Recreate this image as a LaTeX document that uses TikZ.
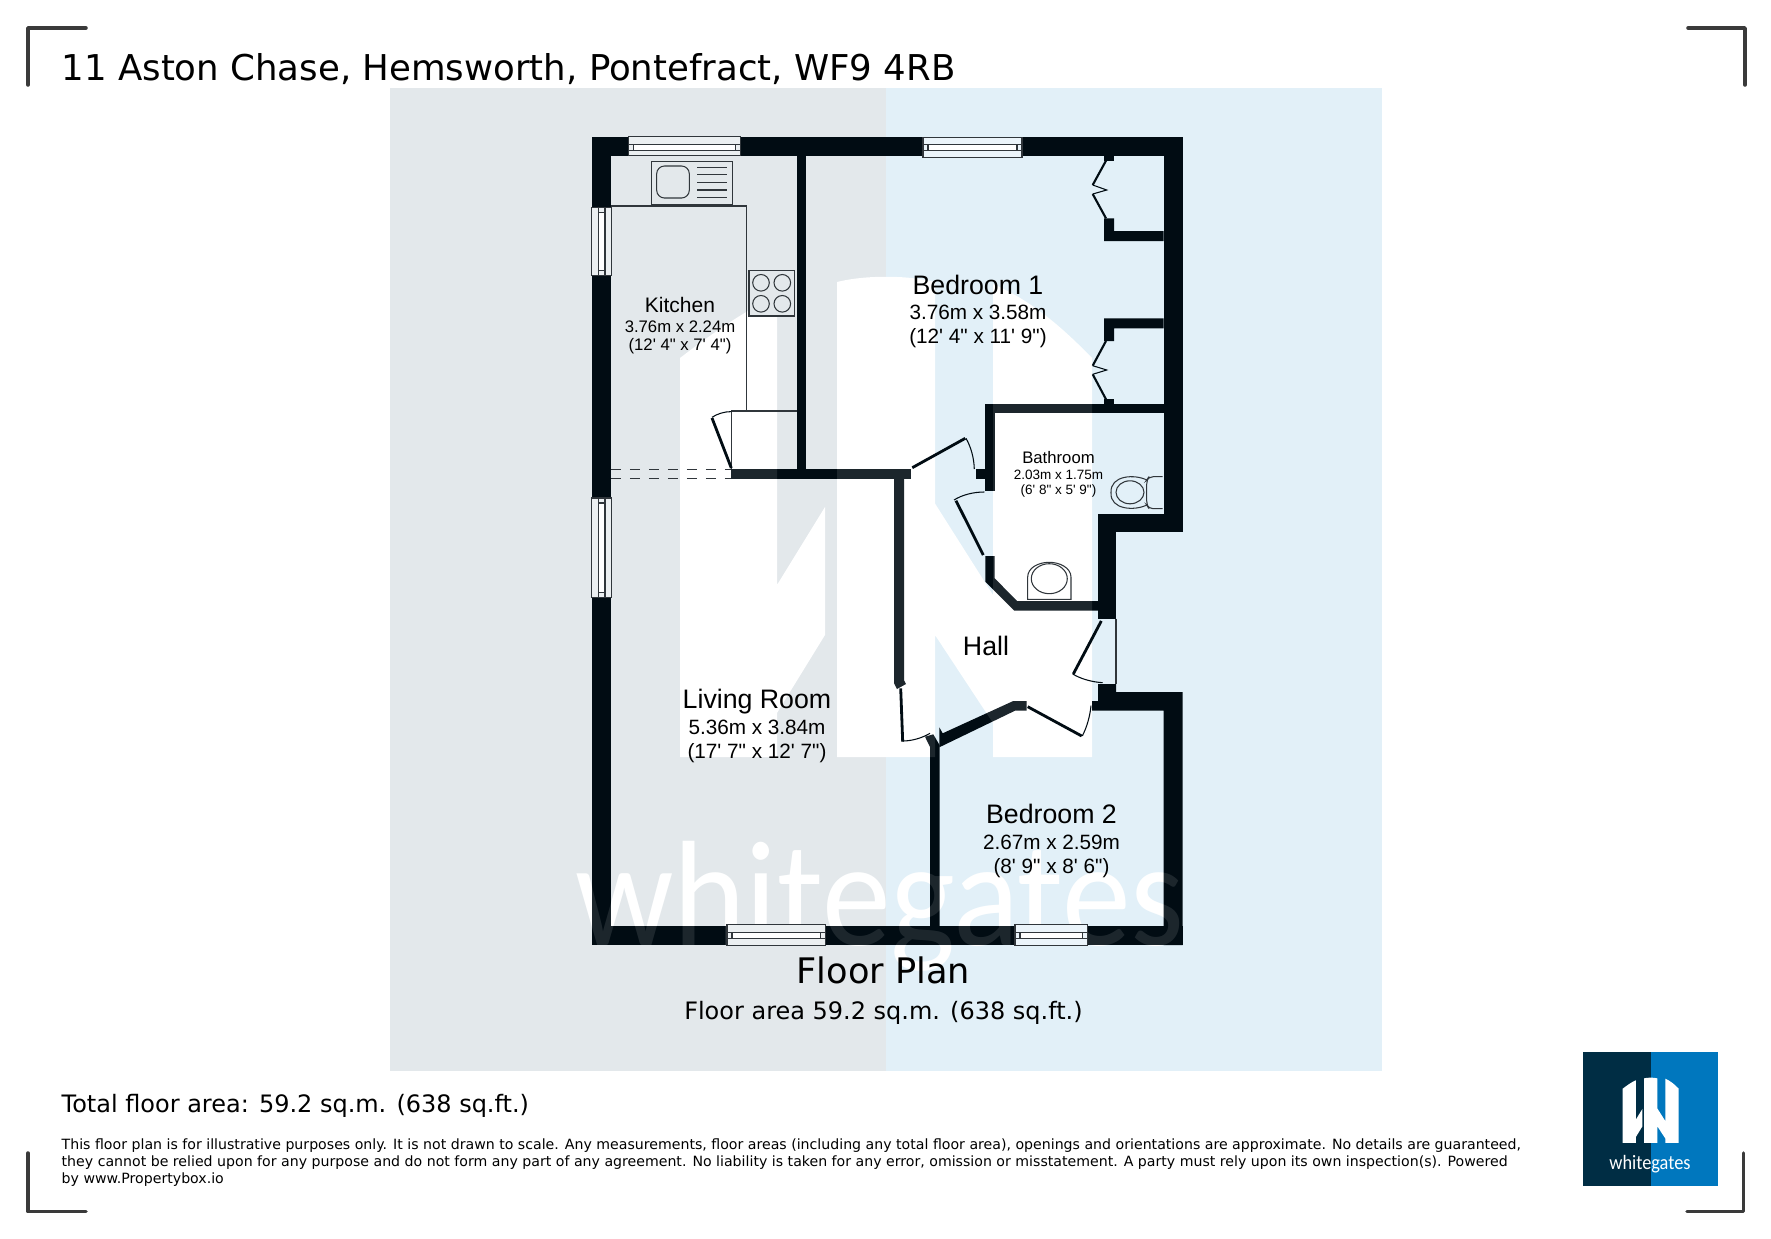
\documentclass[tikz,border=0pt]{standalone}
\usepackage{fontspec}
\usepackage{xcolor}
\usepackage{tikz}
\setmainfont{Liberation Sans}
\newfontfamily\roomfont{Liberation Sans}
\newfontfamily\verdanafont{DejaVu Sans}
\newfontfamily\markfont{Carlito}
\definecolor{panelgray}{HTML}{E3E8EB}
\definecolor{panelblue}{HTML}{E2F0F8}
\definecolor{wallink}{HTML}{010C13}
\definecolor{logonavy}{HTML}{002D44}
\definecolor{logoblue}{HTML}{0077BE}
\definecolor{fixtureline}{HTML}{30363B}
\definecolor{cornerink}{HTML}{3A3A3A}
\newcommand{\markshapes}{
	(680,358) .. controls (710,335) and (745,310) .. (777,296) -- (777,585) -- (825,507) -- (825,635) -- (777,713) -- (777,757) -- (680,757) -- cycle
	(837,282) .. controls (865,275) and (907,275) .. (935,282) -- (935,757) -- (837,757) -- cycle
	(993,284) .. controls (1030,300) and (1060,325) .. (1092,358) -- (1092,757) -- (993,757) -- (993,723) -- (935,635) -- (935,503.5) -- (993,595) -- cycle
}
\begin{document}
\begin{tikzpicture}[x=0.01cm,y=-0.01cm]
	\tikzstyle{wall}=[fill=wallink]
	\tikzstyle{thin line}=[draw=fixtureline, line width=0.3pt]
	\tikzstyle{leaf}=[draw=wallink, line width=0.8pt]
	\tikzstyle{arc line}=[draw=wallink, line width=0.3pt]
	\tikzstyle{corner}=[draw=cornerink, line width=1pt, line cap=round, line join=round]
	\tikzstyle{roomname}=[anchor=base, inner sep=0pt, font=\roomfont\fontsize{7.6pt}{9pt}\selectfont]
	\tikzstyle{roomsize}=[anchor=base, inner sep=0pt, font=\roomfont\fontsize{5.89pt}{7pt}\selectfont]
	\tikzstyle{smallname}=[anchor=base, inner sep=0pt, font=\roomfont\fontsize{5.97pt}{7pt}\selectfont]
	\tikzstyle{smallsize}=[anchor=base, inner sep=0pt, font=\roomfont\fontsize{4.75pt}{6pt}\selectfont]
	\tikzstyle{tinysize}=[anchor=base, inner sep=0pt, font=\roomfont\fontsize{3.84pt}{5pt}\selectfont]
	\tikzstyle{footer}=[anchor=base west, inner sep=0pt, font=\verdanafont\fontsize{4.02pt}{5pt}\selectfont]
	\useasboundingbox (0,0) rectangle (1771,1239);

	% panels and the white mark behind the plan
	\fill[panelgray] (390,88) rectangle (886,1071);
	\fill[panelblue] (886,88) rectangle (1382,1071);
	\fill[white] \markshapes;
	\node[anchor=base, inner sep=0pt, xscale=0.917, transform shape, text=white, font=\markfont\fontsize{42.7pt}{50pt}\selectfont] (markword) at (880,945) {whitegates};

	% walls
	\fill[wall] (592,137) rectangle (1182.5,156);
	\fill[wall] (592,137) rectangle (611,945);
	\fill[wall] (592,926) rectangle (1182.5,945);
	\fill[wall] (1163.5,137) rectangle (1182.5,532);
	\fill[wall] (1098,514) rectangle (1182.5,532);
	\fill[wall] (1098,514) rectangle (1116,618.7);
	\fill[wall] (1098,684) -- (1116,684) -- (1116,692) -- (1182.5,692) -- (1182.5,945) -- (1163.5,945) -- (1163.5,710.7) -- (1092,710.7) -- (1092,701) -- (1098,701) -- cycle;
	\fill[wall] (796.5,156) rectangle (806,470);
	\fill[wall] (731,469.3) rectangle (910.7,479.3);
	\fill[wall] (894,479) -- (904,479) -- (904,680) -- (906,684) -- (897,689) -- (894,683) -- cycle;
	\fill[wall] (985.3,404) rectangle (1163.5,413.3);
	\fill[wall] (985.3,404) rectangle (994.7,490.7);
	\fill[wall] (976,469.3) rectangle (985.3,479.3);
	\fill[wall] (985.3,556) -- (994.7,556) -- (994.7,578.3) -- (1017,601) -- (1098,601) -- (1098,610.7) -- (1014.3,610.7) -- (985.3,581.7) -- cycle;
	\fill[wall] (1104,156) rectangle (1114,160.7);
	\fill[wall] (1104,218.3) -- (1114,218.3) -- (1114,231) -- (1163.5,231) -- (1163.5,241) -- (1104,241) -- cycle;
	\fill[wall] (1104,318.3) -- (1163.5,318.3) -- (1163.5,328.3) -- (1114,328.3) -- (1114,341) -- (1104,341) -- cycle;
	\fill[wall] (1104,399.3) rectangle (1114,404);
	\fill[wall] (1026.7,701) -- (1013.3,701) -- (942.7,733.3) -- (939.3,727.3) -- (939.3,747.3) -- (1015,710.7) -- (1026.7,710.7) -- cycle;
	\fill[wall] (925,736.7) -- (933.3,734.3) -- (939.5,745) -- (939.5,926) -- (930,926) -- (930,747) -- cycle;
	\fill[white, opacity=0.11] \markshapes;
	\node[anchor=base, inner sep=0pt, xscale=0.917, transform shape, text=white, text opacity=0.11, font=\markfont\fontsize{42.7pt}{50pt}\selectfont] (markwordover) at (880,945) {whitegates};

	% windows
	\foreach \xa/\xb/\ya/\yb/\tint in {628.3/740.7/136.7/155.3/panelgray, 923/1022/137.3/157.3/panelblue, 727/825.7/924.7/945.3/panelgray, 1015/1087.8/924.7/945.3/panelblue}{
		\draw[thin line, fill=\tint!70!white] (\xa,\ya) rectangle (\xb,\yb);
		\draw[thin line, fill=white] (\xa+5,\ya+7.5) rectangle (\xb-5,\ya+13.5);
		\draw[thin line] (\xa,\ya+7.5) -- (\xb,\ya+7.5) (\xa,\ya+13.5) -- (\xb,\ya+13.5);
	}
	\foreach \ya/\yb in {207.3/275.3, 498/597.5}{
		\draw[thin line, fill=panelgray!70!white] (591.7,\ya) rectangle (611.7,\yb);
		\draw[thin line, fill=white] (598.3,\ya+5) rectangle (605,\yb-5);
		\draw[thin line] (598.3,\ya) -- (598.3,\yb) (605,\ya) -- (605,\yb);
	}

	% kitchen units
	\draw[thin line] (611,206) -- (746.7,206) -- (746.7,411) (731.3,411) -- (796.5,411) (731.3,411) -- (731.3,469);
	\draw[thin line, fill=panelgray] (651.7,161.7) rectangle (732.7,205);
	\draw[thin line, rounded corners=2.2pt] (656.7,166) rectangle (689.3,198);
	\foreach \ya in {167.3,174.7,182.3,190,197.3}
		\draw[thin line] (697.3,\ya) -- (726.7,\ya);
	\draw[thin line, fill=panelgray] (749,270.3) rectangle (794.7,316);
	\foreach \xa/\ya in {761/282.8, 782.3/282.8, 761/303.8, 782.3/303.8}
		\draw[thin line] (\xa,\ya) circle (8.3);
	\draw[thin line, dash pattern=on 2.8pt off 2.6pt] (611,469.7) -- (731,469.7) (611,478.3) -- (731,478.3);

	% bathroom fittings
	\draw[thin line] (1146.7,480) .. controls (1135,474) and (1110,475) .. (1111,492.7) .. controls (1110,510) and (1135,511) .. (1146.7,505);
	\draw[thin line] (1130,492.3) ellipse (14 and 11.5);
	\draw[thin line, rounded corners=1.2pt] (1162.7,476.7) -- (1149,476.7) -- (1146.7,480) -- (1146.7,505) -- (1149,508.7) -- (1162.7,508.7);
	\draw[thin line] (1027.7,599.3) -- (1071,599.3) -- (1071,577) .. controls (1071,568) and (1060,562.3) .. (1049.3,562.3) .. controls (1038,562.3) and (1027.7,568) .. (1027.7,577) -- cycle;
	\draw[thin line] (1049.3,578.7) ellipse (18 and 15);
	\draw[thin line] (1116,618.7) -- (1116,684);

	% doors
	\draw[leaf] (912.3,467.7) -- (965.3,438.3);
	\draw[arc line] (966,438.3) .. controls (971,447) and (974,458) .. (974.3,469);
	\draw[leaf] (956,500.7) -- (983.3,555);
	\draw[arc line] (954,500) .. controls (962,495) and (973,492) .. (984.3,492);
	\draw[leaf] (1101.3,621) -- (1073.3,674);
	\draw[arc line] (1072.7,674) .. controls (1081,679) and (1092,682) .. (1102.7,682.7);
	\draw[leaf] (1027.7,706.7) -- (1081.7,736);
	\draw[arc line] (1082.3,736) .. controls (1087,727) and (1090,716) .. (1091,705.7);
	\draw[leaf] (900.7,688.3) -- (902.7,741.7);
	\draw[arc line] (902.7,741) .. controls (912,741) and (922,738) .. (930,733.3);
	\draw[leaf] (712,418) -- (731.3,468);
	\draw[arc line] (712,417.3) .. controls (717,414) and (724,411.6) .. (731.3,411.6);

	% cupboard doors
	\draw[leaf, line width=0.6pt] (1106,160.7) -- (1092.7,185);
	\draw[arc line] (1092.7,185) -- (1106.7,190) -- (1092.7,194);
	\draw[leaf, line width=0.6pt] (1092.7,194) -- (1106,218.3);
	\draw[leaf, line width=0.6pt] (1106,341) -- (1092.7,365.7);
	\draw[arc line] (1092.7,365.7) -- (1106.7,370) -- (1092.7,374.3);
	\draw[leaf, line width=0.6pt] (1092.7,374.3) -- (1106,399.3);

	% room labels
	\node[roomname] (bedroomone) at (978,294) {Bedroom 1};
	\node[roomsize] (bedroomonem) at (978,319.3) {3.76m x 3.58m};
	\node[roomsize] (bedroomoneft) at (978,343) {(12' 4" x 11' 9")};
	\node[smallname] (kitchen) at (680,312) {Kitchen};
	\node[smallsize] (kitchenm) at (680,332) {3.76m x 2.24m};
	\node[smallsize] (kitchenft) at (680,350.7) {(12' 4" x 7' 4")};
	\node[smallsize] (bathroom) at (1058.5,463) {Bathroom};
	\node[tinysize] (bathroomm) at (1058.5,479) {2.03m x 1.75m};
	\node[tinysize] (bathroomft) at (1058.5,494) {(6' 8" x 5' 9")};
	\node[roomname] (livingroom) at (757,708) {Living Room};
	\node[roomsize] (livingroomm) at (757,734) {5.36m x 3.84m};
	\node[roomsize] (livingroomft) at (757,758.5) {(17' 7" x 12' 7")};
	\node[roomname] (hall) at (986,655.7) {Hall};
	\node[roomname] (bedroomtwo) at (1051.5,823) {Bedroom 2};
	\node[roomsize] (bedroomtwom) at (1051.5,849) {2.67m x 2.59m};
	\node[roomsize] (bedroomtwoft) at (1051.5,873.5) {(8' 9" x 8' 6")};

	% captions
	\node[anchor=base west, inner sep=0pt, font=\verdanafont\fontsize{10.11pt}{12pt}\selectfont] (address) at (61,80) {11 Aston Chase, Hemsworth, Pontefract, WF9 4RB};
	\node[anchor=base, inner sep=0pt, font=\verdanafont\fontsize{10pt}{12pt}\selectfont] (floorplan) at (883.5,983) {Floor Plan};
	\node[anchor=base, inner sep=0pt, font=\verdanafont\fontsize{6.82pt}{8pt}\selectfont] (floorarea) at (883.5,1019) {Floor area 59.2 sq.m. (638 sq.ft.)};
	\node[anchor=base west, inner sep=0pt, font=\verdanafont\fontsize{6.82pt}{8pt}\selectfont] (totalarea) at (61,1112) {Total floor area: 59.2 sq.m. (638 sq.ft.)};
	\node[footer] (noteone) at (61,1149) {This floor plan is for illustrative purposes only. It is not drawn to scale. Any measurements, floor areas (including any total floor area), openings and orientations are approximate. No details are guaranteed,};
	\node[footer] (notetwo) at (61,1166) {they cannot be relied upon for any purpose and do not form any part of any agreement. No liability is taken for any error, omission or misstatement. A party must rely upon its own inspection(s). Powered};
	\node[footer] (notethree) at (61,1183) {by www.Propertybox.io};

	% logo
	\fill[logonavy] (1583.3,1052.3) rectangle (1650.7,1185.7);
	\fill[logoblue] (1650.7,1052.3) rectangle (1717.7,1185.7);
	\begin{scope}[shift={(1530.2,1040)}, scale=0.136]
		\fill[white] \markshapes;
	\end{scope}
	\node[anchor=base, inner sep=0pt, xscale=0.9, transform shape, text=white, font=\markfont\fontsize{5.8pt}{7pt}\selectfont] (logoword) at (1650,1169) {whitegates};

	% page corners
	\draw[corner] (28,85) -- (28,28) -- (86,28);
	\draw[corner] (1688,28) -- (1745,28) -- (1745,85);
	\draw[corner] (28,1153) -- (28,1211.7) -- (86,1211.7);
	\draw[corner] (1687,1211.7) -- (1743.3,1211.7) -- (1743.3,1153);
\end{tikzpicture}
\end{document}
